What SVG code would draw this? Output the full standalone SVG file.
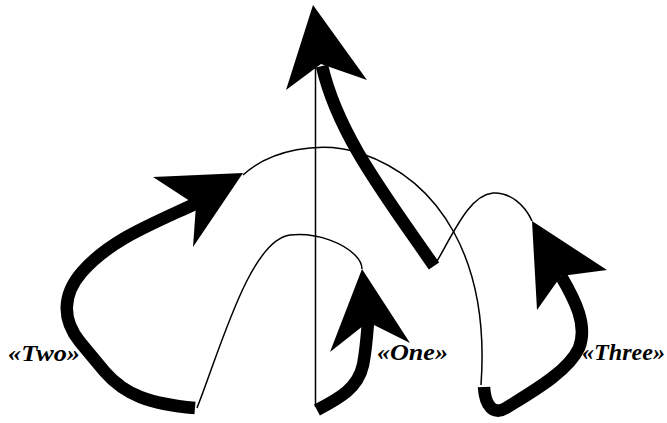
<svg xmlns="http://www.w3.org/2000/svg" width="667" height="423" viewBox="0 0 667 423">
<style>
.thin{fill:none;stroke:#000;stroke-width:1.5}
.thick{fill:none;stroke:#000;stroke-width:12.5;stroke-linecap:butt}
.head{fill:#000;stroke:none}
.lbl{font-family:"Liberation Serif",serif;font-weight:bold;font-style:italic;font-size:23px;fill:#000}
</style>
<rect width="667" height="423" fill="#fff"/>
<g id="connectors">
  <path class="thin" d="M315.5,12 V407"/>
  <path class="thick" d="M434,266 C 385,195 338,135 322,66"/>
  <path class="thin" d="M436,263 C 455,230 470,195 493,193 C 510,192 525,205 532,221"/>
  <path class="thin" d="M243,175 C 270,150 320,140 360,153 C 440,180 490,260 481,385"/>
  <path class="thick" d="M484,387 C 485,405 493,416 506,408 C 530,393 568,372 579,348 C 588,325 575,300 561,276"/>
  <path class="thick" d="M195,408 C 150,404 125,395 105,372 L 80,342 C 62,320 62,295 82,272 C 110,240 150,225 197,203"/>
  <path class="thin" d="M197,408 C 220,350 250,240 290,235 C 320,232 345,245 355,255 C 360,260 362,265 362,269"/>
  <path class="thick" d="M317,410 C 340,398 358,388 363,365 C 366,350 367,335 368,322"/>
</g>
<g id="head-top"><polygon class="head" points="313,5 367,80 321,64 286,90"/></g>
<g id="head-two"><polygon class="head" points="243,173 153,177 196,205 193,247"/></g>
<g id="head-one"><polygon class="head" points="362,269 410,343 368,322 330,352"/></g>
<g id="head-three"><polygon class="head" points="532,221 607,270 561,276 537,310"/></g>
<g id="label-two"><text class="lbl" x="8" y="361" textLength="72" lengthAdjust="spacingAndGlyphs">«Two»</text></g>
<g id="label-one"><text class="lbl" x="377" y="360" textLength="71" lengthAdjust="spacingAndGlyphs">«One»</text></g>
<g id="label-three"><text class="lbl" x="582" y="360" textLength="83" lengthAdjust="spacingAndGlyphs">«Three»</text></g>
</svg>
